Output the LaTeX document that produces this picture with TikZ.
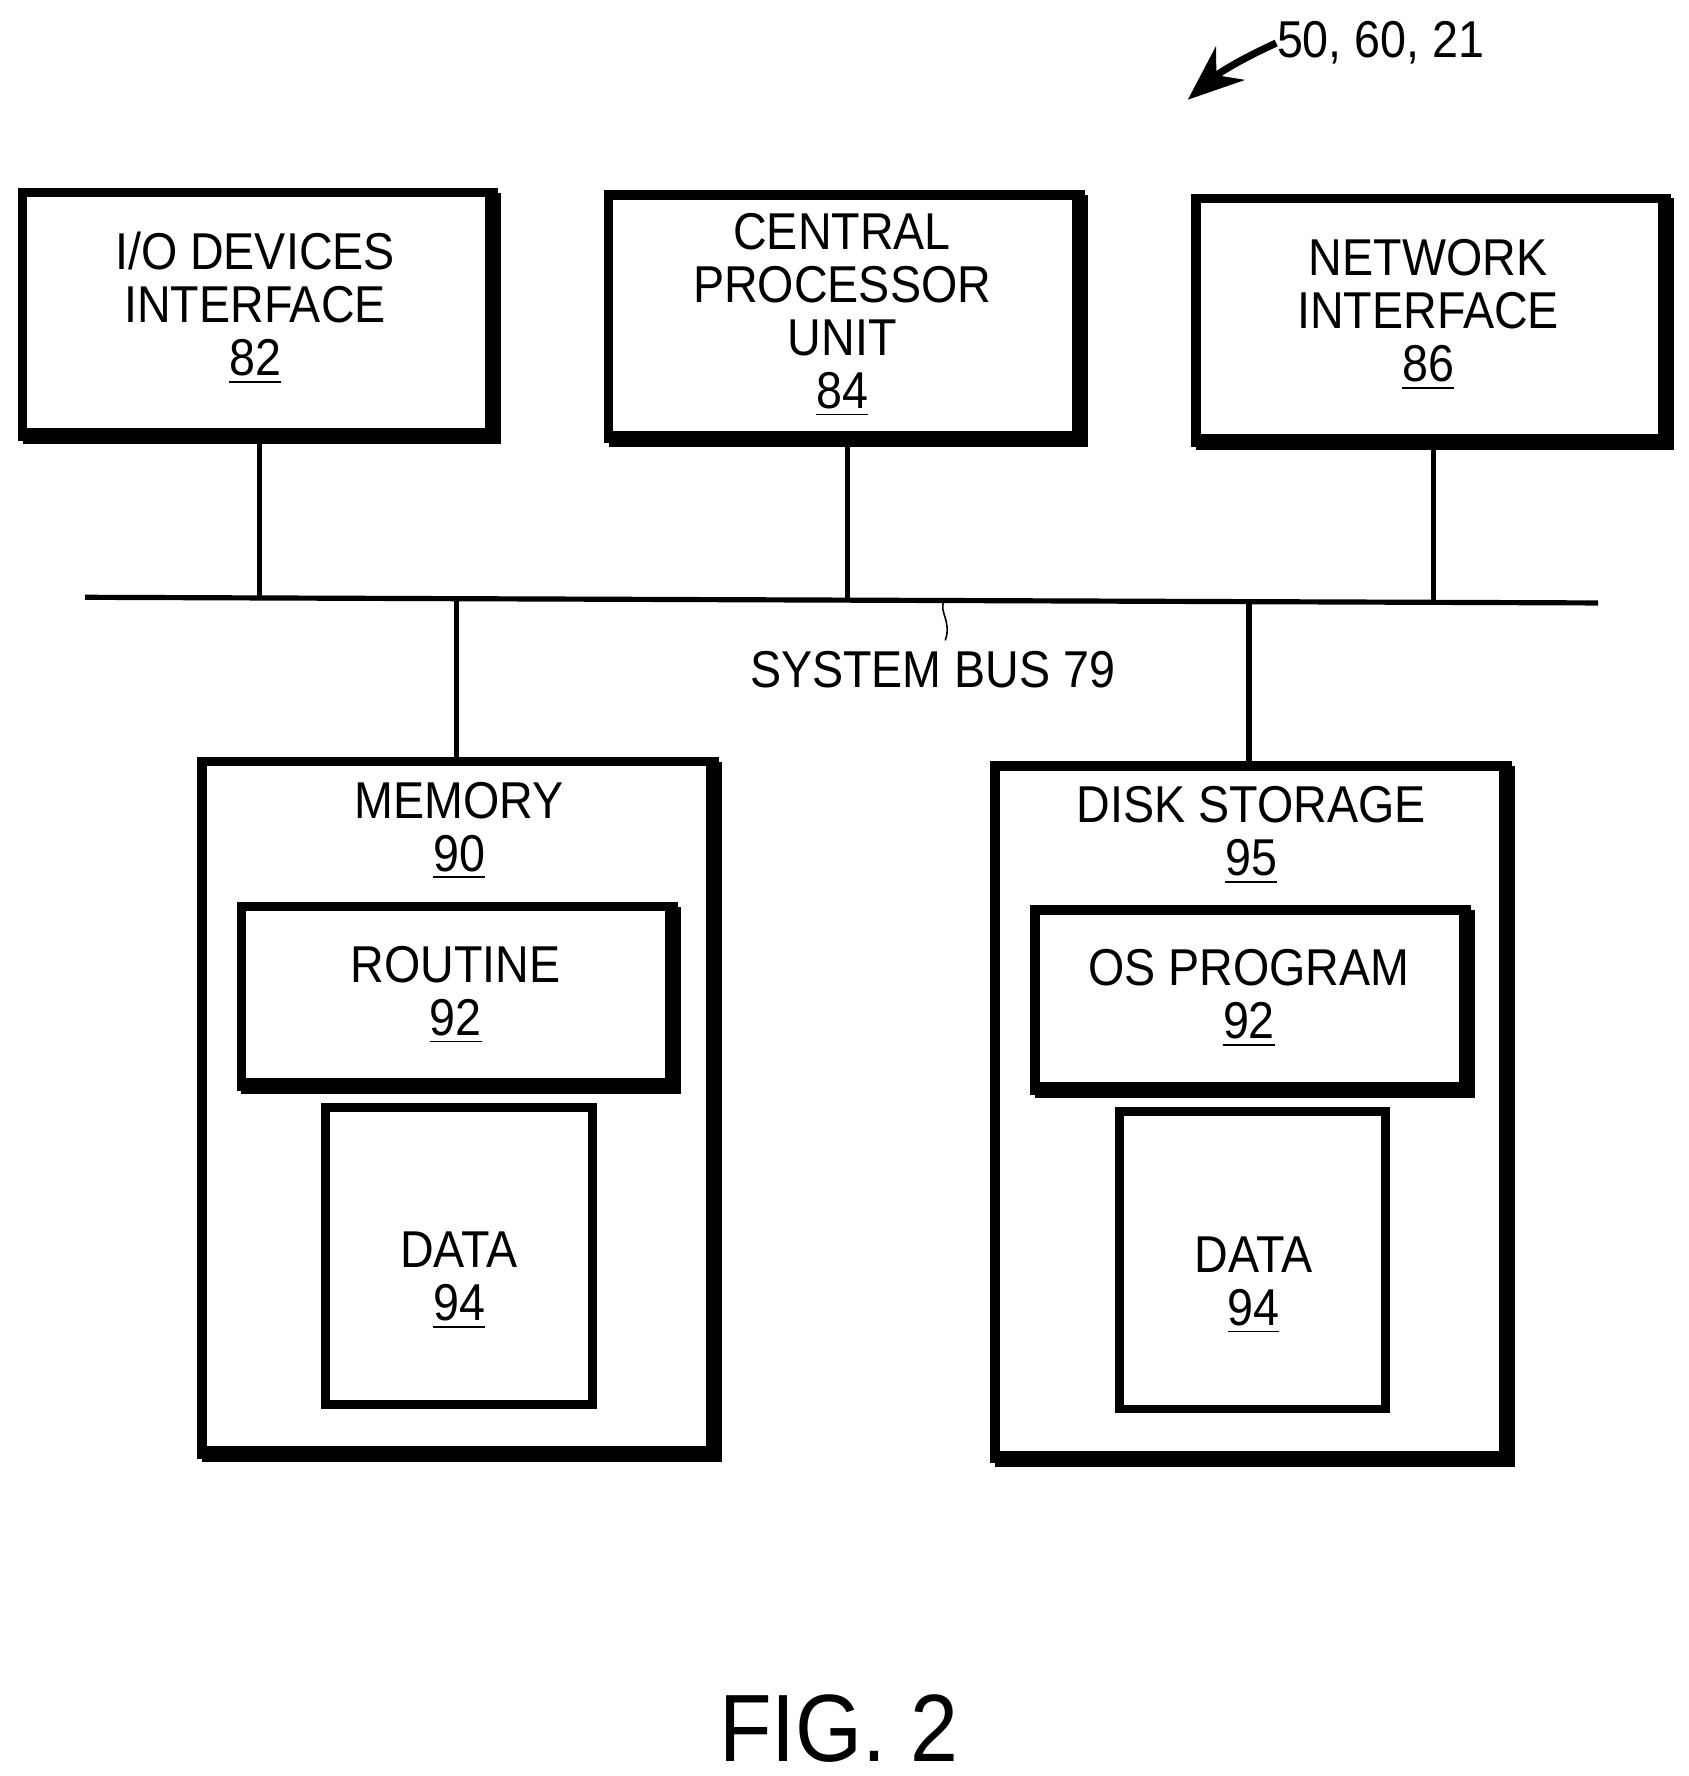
\documentclass[tikz,border=0pt]{standalone}
\usepackage{fontspec}
\setmainfont{Liberation Sans}[FakeStretch=0.9]
\usetikzlibrary{shapes.geometric,arrows.meta}
\begin{document}
\begin{tikzpicture}[x=0.01cm,y=-0.01cm,
  box/.style={draw,line width=2.4pt,inner sep=0pt},
  lbl/.style={align=center,font=\fontsize{13}{13.3}\selectfont,inner sep=0pt},
  bus/.style={line width=1.3pt},
  drum/.style={cylinder,shape border rotate=90,draw,line width=2.2pt,
    minimum width=2.35cm,minimum height=2.62cm,aspect=0.35,inner sep=0pt}]
 \useasboundingbox (0,0) rectangle (1490,1567);
 % top row
 \draw[box] (20,170) rectangle (435,385) coordinate (io se);
 \node[lbl] (io) at (225,272) {I/O DEVICES\\INTERFACE\\\underline{82}};
 \draw[box] (537,172) rectangle (953,387);
 \node[lbl] (cpu) at (743,278) {CENTRAL\\PROCESSOR\\UNIT\\\underline{84}};
 \draw[box] (1055,175) rectangle (1470,390);
 \node[lbl] (net) at (1260,278) {NETWORK\\INTERFACE\\\underline{86}};
 % heavy right and bottom edges
 \foreach \xa/\ya/\xb/\yb in {20/170/435/385,537/172/953/387,1055/175/1470/390,
   213/800/594/958,913/803/1294/962,178/672/630/1283,878/676/1330/1287}
  \draw[line width=4pt] (\xb,\ya) -- (\xb,\yb) -- (\xa,\yb);
 % bus
 \coordinate (bus w) at (75,527);
 \coordinate (bus e) at (1410,532);
 \draw[bus] (bus w) -- (bus e);
 \draw[bus] (229,385) -- (229,527) (748,387) -- (748,529) (1265,390) -- (1265,531);
 \draw[bus] (403,528) -- (403,672) (1102,530) -- (1102,676);
 \draw[thin] (833,530) .. controls (828,540) and (840,548) .. (834,565);
 \node[lbl] (bus) at (823,591) {SYSTEM BUS 79};
 % memory
 \draw[box] (178,672) rectangle (630,1283);
 \node[lbl] (mem) at (405,733) {MEMORY\\\underline{90}};
 \draw[box] (213,800) rectangle (594,958);
 \node[lbl] (rtn) at (402,878) {ROUTINE\\\underline{92}};
 \node[drum] (data1) at (405,1110) {};
 \node[lbl] (d1) at (405,1130) {DATA\\\underline{94}};
 % disk
 \draw[box] (878,676) rectangle (1330,1287);
 \node[lbl] (disk) at (1104,737) {DISK STORAGE\\\underline{95}};
 \draw[box] (913,803) rectangle (1294,962);
 \node[lbl] (os) at (1102,881) {OS PROGRAM\\\underline{92}};
 \node[drum] (data2) at (1105,1114) {};
 \node[lbl] (d2) at (1106,1134) {DATA\\\underline{94}};
 % reference
 \node[lbl,anchor=west] (ref) at (1126,38) {50, 60, 21};
 \draw[line width=1.8pt,-{Stealth[length=14pt,width=11pt]}] (ref.west) to[bend right=8] (1048,88);
 \node[font=\fontsize{24}{24}\selectfont] (fig) at (740,1525) {FIG. 2};
\end{tikzpicture}
\end{document}
